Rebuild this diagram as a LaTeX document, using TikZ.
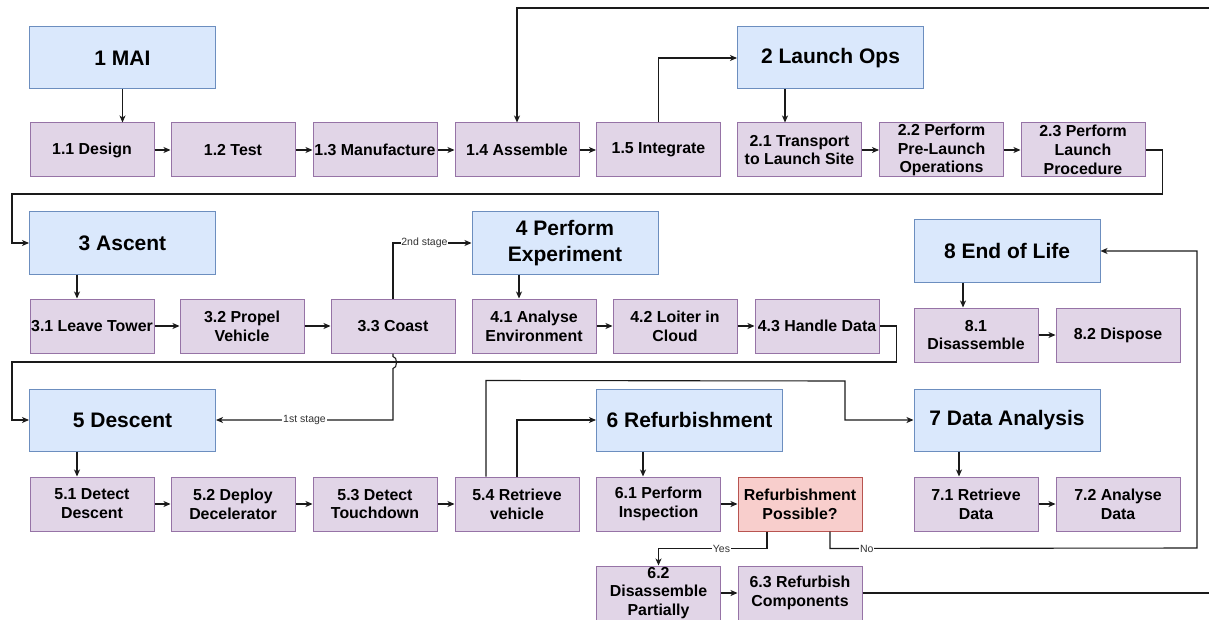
\documentclass[tikz,border=0pt]{standalone}
\usepackage{fontspec}
\setmainfont{Liberation Sans}
\usetikzlibrary{arrows.meta,calc}
\definecolor{fblue}{HTML}{DAE8FC}
\definecolor{pblue}{HTML}{6C8EBF}
\definecolor{fpur}{HTML}{E1D5E7}
\definecolor{ppur}{HTML}{9673A6}
\definecolor{fred}{HTML}{F8CECC}
\definecolor{pred}{HTML}{B85450}
\definecolor{wire}{HTML}{1A1A1A}
\tikzset{
  parent/.style={draw=pblue, fill=fblue, line width=1pt, minimum width=186, minimum height=62,
    font=\bfseries\fontsize{21}{26}\selectfont, align=center, inner sep=0pt},
  child/.style={draw=ppur, fill=fpur, line width=1pt, minimum width=124, minimum height=54,
    font=\bfseries\fontsize{15.9}{18.8}\selectfont, align=center, inner sep=0pt},
  decide/.style={child, draw=pred, fill=fred},
  arr/.style={draw=wire, line width=1.1pt, -{Stealth[length=7pt,width=6pt,inset=2pt]}},
  lbl/.style={fill=white, font=\fontsize{10.5}{12}\selectfont, inner sep=0.8pt, text=black!80}
}
\begin{document}
\begin{tikzpicture}[x=1pt,y=-1pt]
\useasboundingbox (0,0) rectangle (1209,620);
% ---------- row A
\node[parent] (m1) at (122.5,58) {1 MAI};
\node[parent] (l2) at (830.5,58) {2 Launch Ops};
\node[child] (c11) at (92,150) {1.1 Design};
\node[child] (c12) at (233,150) {1.2 Test};
\node[child] (c13) at (375,150) {1.3 Manufacture};
\node[child] (c14) at (517,150) {1.4 Assemble};
\node[child] (c15) at (658.5,150) {1.5 Integrate};
\node[child] (c21) at (799.5,150) {2.1 Transport\\to Launch Site};
\node[child] (c22) at (941.5,150) {2.2 Perform\\Pre-Launch\\Operations};
\node[child] (c23) at (1083,150) {2.3 Perform\\Launch\\Procedure};
% ---------- row B
\node[parent] (a3) at (122.5,243) {3 Ascent};
\node[parent] (e4) at (565,243) {4 Perform\\Experiment};
\node[parent] (e8) at (1007,251) {8 End of Life};
\node[child] (c31) at (92,326) {3.1 Leave Tower};
\node[child] (c32) at (242,326) {3.2 Propel\\Vehicle};
\node[child] (c33) at (393,326) {3.3 Coast};
\node[child] (c41) at (534,326) {4.1 Analyse\\Environment};
\node[child] (c42) at (675,326) {4.2 Loiter in\\Cloud};
\node[child] (c43) at (817,326) {4.3 Handle Data};
\node[child] (c81) at (976,335) {8.1\\Disassemble};
\node[child] (c82) at (1118,335) {8.2 Dispose};
% ---------- row C
\node[parent] (d5) at (122.5,420) {5 Descent};
\node[parent] (r6) at (689.5,420) {6 Refurbishment};
\node[parent] (d7) at (1007,420) {7 Data Analysis};
\node[child] (c51) at (92,504) {5.1 Detect\\Descent};
\node[child] (c52) at (233,504) {5.2 Deploy\\Decelerator};
\node[child] (c53) at (375,504) {5.3 Detect\\Touchdown};
\node[child] (c54) at (517,504) {5.4 Retrieve\\vehicle};
\node[child] (c61) at (658.5,504) {6.1 Perform\\Inspection};
\node[decide] (rp) at (800,504) {Refurbishment\\Possible?};
\node[child] (c71) at (976,504) {7.1 Retrieve\\Data};
\node[child] (c72) at (1118,504) {7.2 Analyse\\Data};
\node[child] (c62) at (658.5,593) {6.2\\Disassemble\\Partially};
\node[child] (c63) at (800,593) {6.3 Refurbish\\Components};
% ---------- connectors row A
\draw[arr] (m1.south) -- (m1.south |- c11.north);
\draw[arr] (c11) -- (c12);
\draw[arr] (c12) -- (c13);
\draw[arr] (c13) -- (c14);
\draw[arr] (c14) -- (c15);
\draw[arr] (c15.north) |- (l2.west);
\draw[arr] ([xshift=-45.5pt]l2.south) -- ([xshift=-45.5pt]l2.south |- c21.north);
\draw[arr] (c21) -- (c22);
\draw[arr] (c22) -- (c23);
\draw[arr] (c23.east) -- ++(17,0) -- ++(0,44) -- (12,194) |- (a3.west);
% ---------- connectors row B
\draw[arr] ([xshift=-45.5pt]a3.south) -- ([xshift=-45.5pt]a3.south |- c31.north);
\draw[arr] (c31) -- (c32);
\draw[arr] (c32) -- (c33);
\draw[arr] (c33.north) |- node[lbl, pos=0.7] {2nd stage} (e4.west);
\draw[arr] ([xshift=-46pt]e4.south) -- ([xshift=-46pt]e4.south |- c41.north);
\draw[arr] (c41) -- (c42);
\draw[arr] (c42) -- (c43);
\draw[arr] (c43.east) -- ++(17,0) -- ++(0,36) -- (12,362) |- (d5.west);
\draw[arr] (c33.south) -- ++(0,3) to[out=0,in=0] ++(0,12) -- (c33.south |- d5.east)
   -- node[lbl] {1st stage} (d5.east);
\draw[arr] ([xshift=-44pt]e8.south) -- ([xshift=-44pt]e8.south |- c81.north);
\draw[arr] (c81) -- (c82);
% ---------- connectors row C
\draw[arr] ([xshift=-45.5pt]d5.south) -- ([xshift=-45.5pt]d5.south |- c51.north);
\draw[arr] (c51) -- (c52);
\draw[arr] (c52) -- (c53);
\draw[arr] (c53) -- (c54);
\draw[arr] (c54.north) |- (r6.west);
\draw[arr] ([xshift=-31pt]c54.north) -- ++(0,-96) -- (845,381) |- (d7.west);
\draw[arr] ([xshift=-46.5pt]r6.south) -- ([xshift=-46.5pt]r6.south |- c61.north);
\draw[arr] (c61) -- (rp);
\draw[arr] ([xshift=-33pt]rp.south) -- ++(0,17) -| node[lbl, pos=0.21] {Yes} (c62.north);
\draw[arr] ([xshift=30pt]rp.south) -- ++(0,17) -- node[lbl, pos=0.1] {No} (1197,548) |- (e8.east);
\draw[arr] (c62) -- (c63);
\draw[arr] (c63.east) -- (1214,593) -- (1214,8) -- (c14.north |- 0,8) -- (c14.north);
\draw[arr] ([xshift=-48pt]d7.south) -- ([xshift=-48pt]d7.south |- c71.north);
\draw[arr] (c71) -- (c72);
\end{tikzpicture}
\end{document}
